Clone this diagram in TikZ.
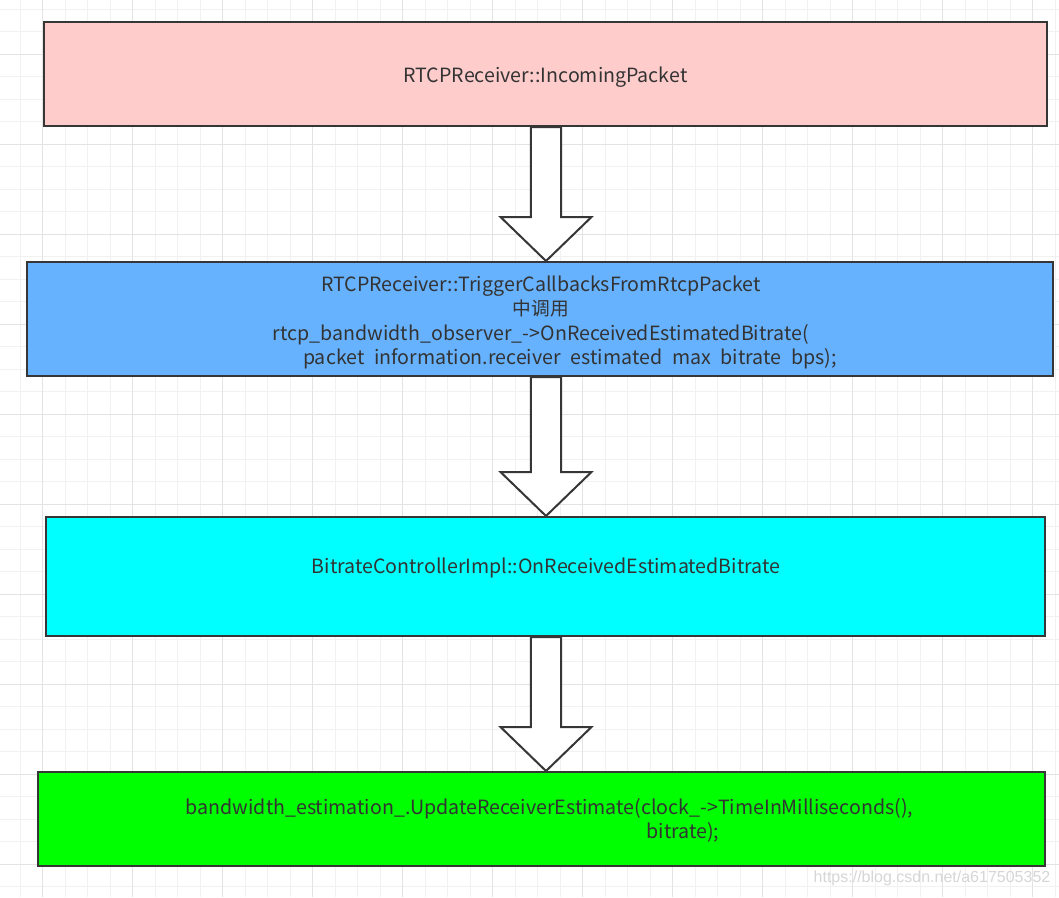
\documentclass[tikz,border=0pt]{standalone}
\usepackage{fontspec}
\setmainfont{Noto Sans CJK SC}
\newfontfamily\wmfont{Liberation Sans}
\usetikzlibrary{calc}
\definecolor{pinkc}{HTML}{FFCCCC}
\definecolor{bluec}{HTML}{66B2FF}
\definecolor{cyanc}{HTML}{00FFFF}
\definecolor{greenc}{HTML}{00FF00}
\definecolor{linec}{HTML}{363636}
\definecolor{textc}{HTML}{333333}
\definecolor{gridminor}{HTML}{F1F1F1}
\definecolor{gridmajor}{HTML}{E3E3E3}
\definecolor{wmc}{HTML}{D6D6D6}
\newcommand\wgap{\hspace{0.28em}}
\tikzset{
  box/.style={draw=linec, line width=2pt, rectangle, inner sep=0pt},
  txt/.style={text=textc, inner sep=0pt, font=\fontsize{19.6}{24.5}\selectfont},
  wm/.style={text=wmc, inner sep=0pt, font=\wmfont\fontsize{16}{18}\selectfont},
  blockarrow/.style={draw=linec, line width=2pt, fill=white, line join=miter,
    to path={let \p1=(\tikztostart), \p2=(\tikztotarget) in
      (\x1-15.2pt,\y1) -- (\x1-15.2pt,\y2+44pt) -- (\x1-45.5pt,\y2+44pt) -- (\x1,\y2)
      -- (\x1+45.5pt,\y2+44pt) -- (\x1+15.2pt,\y2+44pt) -- (\x1+15.2pt,\y1) -- cycle}}
}
\begin{document}
\begin{tikzpicture}[x=1pt,y=-1pt]
\useasboundingbox (0,0) rectangle (1059,897);
\fill[white] (0,0) rectangle (1059,897);
% grid
\foreach \gx in {20,42.5,...,1059} \draw[gridminor, line width=1pt] (\gx,0) -- (\gx,897);
\foreach \gy in {9,31.5,...,897} \draw[gridminor, line width=1pt] (0,\gy) -- (1059,\gy);
\foreach \gx in {42.5,132.5,...,1059} \draw[gridmajor, line width=1pt] (\gx,0) -- (\gx,897);
\foreach \gy in {54,144,...,897} \draw[gridmajor, line width=1pt] (0,\gy) -- (1059,\gy);
% boxes
\node[box, fill=pinkc, minimum width=1003pt, minimum height=104pt] (p) at (545.5,74) {};
\node[box, fill=bluec, minimum width=1026pt, minimum height=114pt] (b) at (540,319) {};
\node[box, fill=cyanc, minimum width=999.5pt, minimum height=119pt] (c) at (545.25,576.5) {};
\node[box, fill=greenc, minimum width=1007.5pt, minimum height=94pt] (g) at (541.25,819) {};
% texts
\node[txt] (pt) at (545.5,77) {RTCPReceiver::IncomingPacket};
\node[txt, align=center] (bt) at (541,322.5) {RTCPReceiver::TriggerCallbacksFromRtcpPacket\\
  {\fontsize{18.7}{24.5}\selectfont 中调用}\\
  rtcp\_bandwidth\_observer\_->OnReceivedEstimatedBitrate(\\
  \hspace*{58pt}packet\wgap{} information.receiver\wgap{} estimated\wgap{} max\wgap{} bitrate\wgap{} bps);};
\node[txt] (ct) at (546,568) {BitrateControllerImpl::OnReceivedEstimatedBitrate};
\node[txt, align=center] (gt) at (549.5,820.5) {bandwidth\_estimation\_.UpdateReceiverEstimate(clock\_->TimeInMilliseconds(),\\
  \hspace*{267pt}bitrate);};
% arrows
\coordinate (ax) at (546,0);
\draw[blockarrow] (p.south -| ax) to (b.north -| ax);
\draw[blockarrow] (b.south -| ax) to (c.north -| ax);
\draw[blockarrow] (c.south -| ax) to (g.north -| ax);
% watermark
\node[wm] (w) at (932,878) {https://blog.csdn.net/a617505352};
\end{tikzpicture}
\end{document}
